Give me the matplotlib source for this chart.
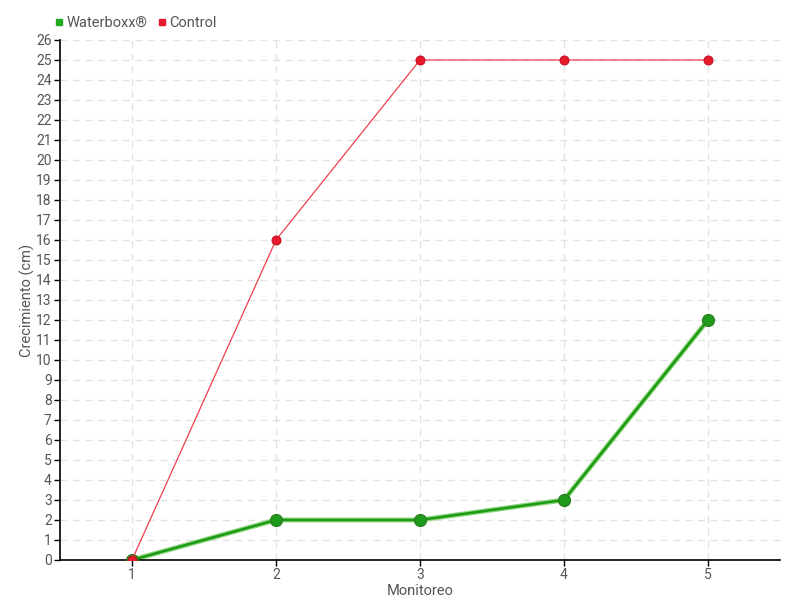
import matplotlib.pyplot as plt
from matplotlib.lines import Line2D

plt.rcParams['font.family'] = ['Roboto', 'DejaVu Sans']

monitoreo = [1, 2, 3, 4, 5]
waterboxx = [0, 2, 2, 3, 12]
control = [0, 16, 25, 25, 25]

fig = plt.figure(figsize=(8, 6), dpi=100)
ax = fig.add_axes([0.075, 0.0667, 0.9, 0.8667])

# Waterboxx: green line with lighter edge
ax.plot(monitoreo, waterboxx, color='#8fd67f', lw=3.6, zorder=2)
ax.plot(monitoreo, waterboxx, color='#1d9a14', lw=1.8, marker='o', ms=8.5,
        mfc='#1f9a1a', mec='#2a7f22', mew=1, zorder=3)
# Control
ax.plot(monitoreo, control, color='#f04050', lw=0.9, marker='o', ms=6.5,
        mfc='#e8192c', mec='#c01020', mew=0.7, zorder=4)

ax.set_xlim(0.5, 5.5)
ax.set_ylim(0, 26)
ax.set_xticks(monitoreo)
ax.set_yticks(range(0, 27))
ax.grid(True, color='#e2e2e2', ls=(0, (5, 4)), lw=1)
ax.set_axisbelow(True)
for s in ['top', 'right']:
    ax.spines[s].set_visible(False)
ax.spines['left'].set_linewidth(1.2)
ax.spines['bottom'].set_linewidth(1.2)
ax.tick_params(colors='#555555', labelsize=10, length=4, width=1, pad=2)
ax.tick_params(axis='both', color='black')
ax.set_xlabel('Monitoreo', color='#555555', fontsize=10.5)
ax.xaxis.set_label_coords(0.5, -0.047)
ax.set_ylabel('Crecimiento (cm)', color='#555555', fontsize=10.5)
ax.yaxis.set_label_coords(-0.035, 0.5)

handles = [Line2D([], [], ls='', marker='s', ms=5, color='#22aa22'),
           Line2D([], [], ls='', marker='s', ms=5, color='#e8192c')]
fig.legend(handles, ['Waterboxx®', 'Control'], loc='upper left',
           bbox_to_anchor=(0.05, 0.995), ncol=2, frameon=False,
           fontsize=10.5, labelcolor='#555555', handletextpad=0.1,
           columnspacing=0.6, handlelength=0.8)

fig.savefig('out.png', dpi=100)
